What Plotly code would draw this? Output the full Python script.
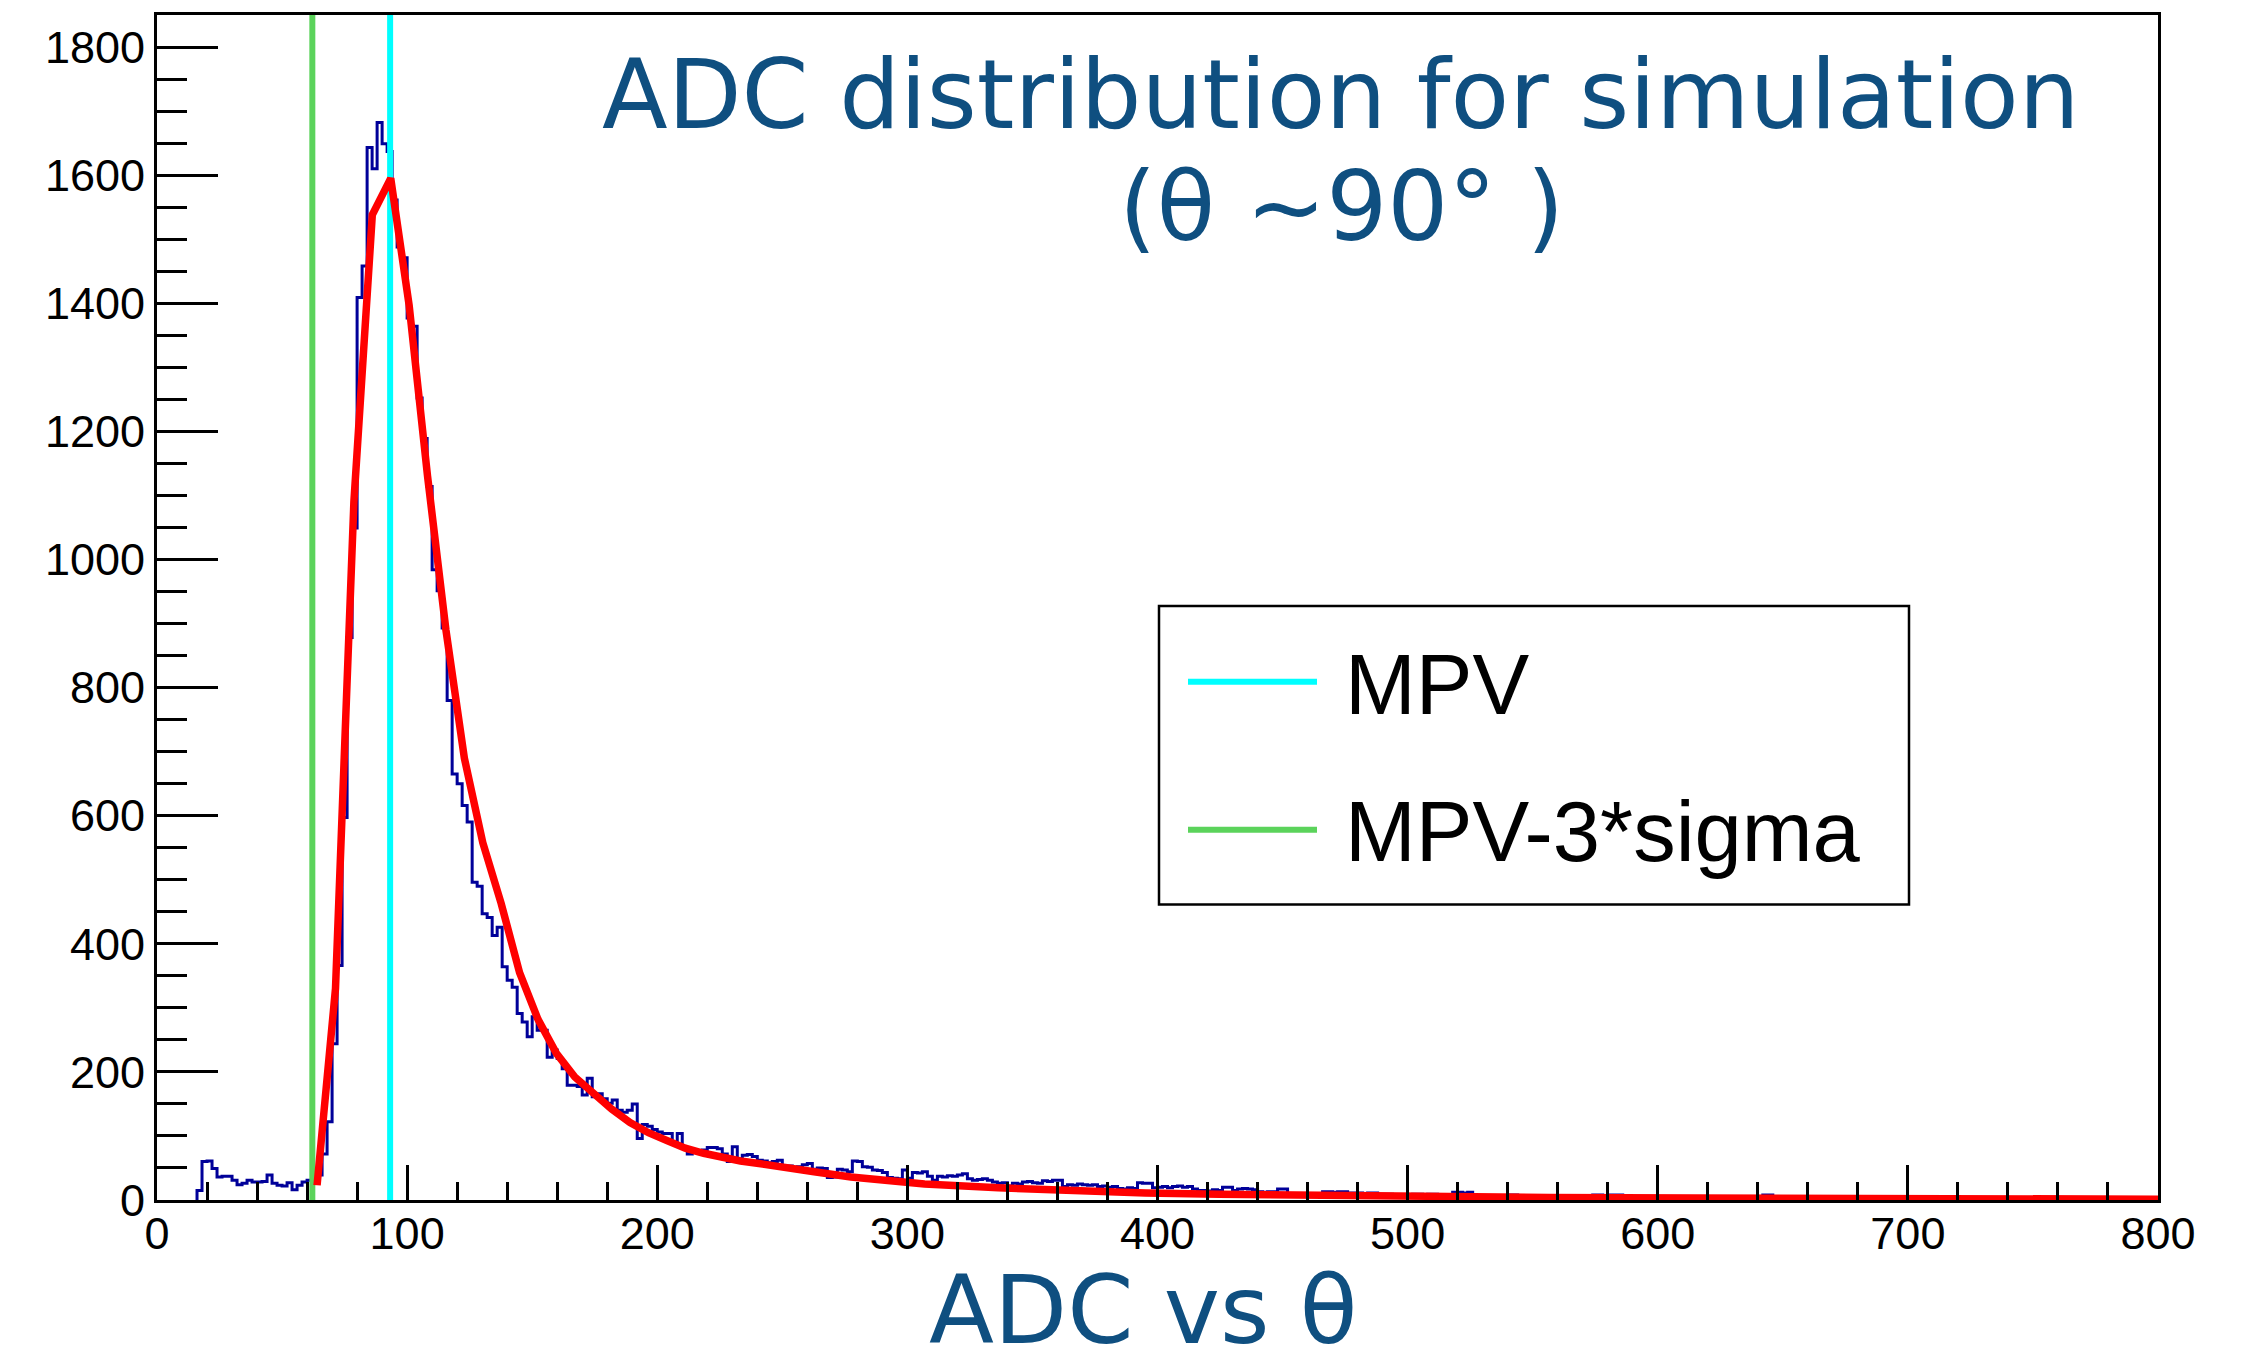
import plotly.graph_objects as go

# ---------------- data ----------------
hist_start = 16          # low edge of first filled bin (ADC)
bin_width = 2            # ADC per bin
counts = [
    15, 60, 61, 49, 36, 37, 37, 31, 24, 26, 31, 28, 28, 29, 39, 26, 23, 22, 27, 16, 23, 28, 31, 30,
    39, 72, 122, 244, 366, 597, 878, 1049, 1409, 1458, 1643, 1610, 1682, 1649, 1637, 1561, 1488, 1471, 1377, 1364, 1252, 1189, 1114, 984,
    951, 893, 780, 665, 650, 616, 590, 496, 490, 447, 441, 413, 426, 364, 343, 332, 291, 278, 255, 286, 265, 265, 223, 234,
    221, 205, 179, 179, 177, 164, 190, 161, 166, 158, 151, 156, 140, 137, 140, 150, 96, 118, 115, 110, 106, 104, 104, 90,
    104, 82, 72, 75, 76, 78, 82, 82, 80, 72, 60, 83, 64, 70, 71, 68, 62, 61, 58, 60, 62, 52, 53, 51,
    52, 55, 57, 48, 50, 49, 35, 36, 48, 47, 44, 61, 60, 52, 51, 47, 46, 43, 35, 34, 33, 47, 34, 43,
    42, 44, 37, 31, 37, 36, 38, 37, 39, 41, 33, 31, 32, 33, 31, 28, 26, 27, 22, 26, 25, 28, 29, 27,
    26, 30, 29, 31, 31, 21, 24, 23, 25, 24, 23, 24, 21, 22, 20, 21, 18, 17, 19, 18, 27, 26, 26, 19,
    20, 21, 19, 21, 22, 20, 21, 17, 15, 15, 14, 16, 15, 20, 20, 15, 17, 18, 17, 16, 13, 12, 13, 13,
    17, 17, 9, 9, 10, 9, 8, 9, 9, 13, 13, 12, 13, 13, 11, 11, 11, 10, 11, 11, 9, 9, 9, 5,
    5, 6, 5, 9, 9, 8, 9, 9, 8, 8, 8, 12, 12, 11, 12, 4, 4, 5, 4, 4, 4, 4, 8, 8,
    7, 4, 4, 3, 5, 4, 4, 3, 4, 5, 4, 3, 4, 4, 4, 8, 8, 7, 8, 8, 8, 3, 3, 2,
    3, 3, 4, 3, 2, 3, 3, 3, 4, 3, 2, 3, 3, 3, 3, 2, 3, 5, 5, 3, 3, 2, 3, 3,
    3, 8, 8, 2, 2, 1, 2, 1, 1, 2, 1, 1, 2, 1, 1, 1, 2, 1, 1, 1, 1, 0, 1, 1,
    1, 0, 1, 1, 0, 1, 0, 0, 1, 0, 1, 0, 0, 1, 0, 0, 0, 1, 0, 0, 0, 0, 1, 0,
    0, 0, 1, 0, 0, 0, 0, 0, 0, 1, 0, 0, 0, 0, 0, 0, 0, 0, 0, 0, 0, 0, 0, 0, 0, 0, 0, 0, 0, 0, 0, 0,
]

fit_adc = [64.0, 71.36, 78.72, 86.08, 93.44, 100.8, 108.16, 115.52, 122.88, 130.24,
           137.6, 144.96, 152.32, 159.68, 167.04, 174.4, 181.76, 189.12, 196.48, 203.84,
           211.2, 218.56, 225.92, 233.28, 240.64, 248.0, 262.72, 277.44, 292.16, 306.88,
           336.32, 365.76, 395.2, 424.64, 454.08, 498.24, 556.64, 615.04, 673.44, 732.0, 800.0]
fit_counts = [23, 330, 1090, 1538, 1595, 1397, 1130, 890, 690, 558,
              463, 355, 282, 229, 192, 165, 142, 121, 105, 93,
              81, 73, 66, 61, 57, 52, 44, 36, 30, 25,
              19, 14.5, 11, 9, 7.5, 5.6, 4, 3, 2.3, 1.7, 1.3]

mpv = 93.2
mpv_minus_3sigma = 62.1

x_range = [0, 800]
y_range = [0, 1850]
title_lines = ["ADC distribution for simulation", "(θ ~90° )"]
x_title = "ADC vs θ"
legend_labels = ["MPV", "MPV-3*sigma"]

# ---------------- figure ----------------
edges = [hist_start + i * bin_width for i in range(len(counts) + 1)]
hist_x = [edges[0]] + edges
hist_y = [0] + counts + [counts[-1]]

HIST_COL = "#000099"
FIT_COL = "#ff0000"
MPV_COL = "#00ffff"
SIG_COL = "#5bd35b"
TXT_COL = "#0f4f80"

fig = go.Figure()
fig.add_trace(go.Scatter(x=hist_x, y=hist_y, mode="lines", line=dict(color=HIST_COL, width=3, shape="hv"),
                         showlegend=False, hoverinfo="skip"))
fig.add_trace(go.Scatter(x=[mpv_minus_3sigma, mpv_minus_3sigma], y=y_range, mode="lines",
                         line=dict(color=SIG_COL, width=6), showlegend=False))
fig.add_trace(go.Scatter(x=[mpv, mpv], y=y_range, mode="lines",
                         line=dict(color=MPV_COL, width=6), showlegend=False))
fig.add_trace(go.Scatter(x=fit_adc, y=fit_counts, mode="lines",
                         line=dict(color=FIT_COL, width=7.5), showlegend=False))

L, R, T, B = 157, 2158, 13, 1200
W, H = 2249, 1355
pw, ph = R - L, B - T


def px(xp):
    return (xp - L) / pw


def py(yp):
    return (B - yp) / ph


axis_common = dict(showline=True, linecolor="black", linewidth=3, mirror=True,
                   ticks="inside", tickcolor="black", tickwidth=2.5,
                   showgrid=False, zeroline=False,
                   tickfont=dict(family="Liberation Sans", size=45, color="black"))

fig.update_layout(
    width=W, height=H,
    margin=dict(l=L, r=W - R, t=T, b=H - B),
    paper_bgcolor="white", plot_bgcolor="white",
    xaxis=dict(range=x_range, tick0=0, dtick=100, ticklen=35, ticklabelstandoff=-8,
               minor=dict(ticks="inside", ticklen=18, tickwidth=2.5, tickcolor="black", dtick=20, showgrid=False),
               **axis_common),
    yaxis=dict(range=y_range, tick0=0, dtick=200, ticklen=61,
               minor=dict(ticks="inside", ticklen=30, tickwidth=2.5, tickcolor="black", dtick=50, showgrid=False),
               **axis_common),
)

annots = [
    dict(text=title_lines[0], x=px(1341), y=py(93), xanchor="center", yanchor="middle",
         font=dict(family="DejaVu Sans", size=96, color=TXT_COL)),
    dict(text=title_lines[1], x=px(1341), y=py(205), xanchor="center", yanchor="middle",
         font=dict(family="DejaVu Sans", size=96, color=TXT_COL)),
    dict(text=x_title, x=px(1143), y=py(1310), xanchor="center", yanchor="middle",
         font=dict(family="DejaVu Sans", size=95, color=TXT_COL)),
    dict(text=legend_labels[0], x=px(1343), y=py(684), xanchor="left", yanchor="middle",
         font=dict(family="Liberation Sans", size=85, color="black")),
    dict(text=legend_labels[1], x=px(1343), y=py(831), xanchor="left", yanchor="middle",
         font=dict(family="Liberation Sans", size=85, color="black")),
]
for a in annots:
    a.update(xref="paper", yref="paper", showarrow=False)
fig.update_layout(annotations=annots)

shapes = [
    dict(type="rect", x0=px(1159), x1=px(1909), y0=py(904), y1=py(605),
         line=dict(color="black", width=2.5), fillcolor="white", layer="above"),
    dict(type="line", x0=px(1188), x1=px(1317), y0=py(681), y1=py(681),
         line=dict(color=MPV_COL, width=6), layer="above"),
    dict(type="line", x0=px(1188), x1=px(1317), y0=py(829), y1=py(829),
         line=dict(color=SIG_COL, width=6), layer="above"),
]
for s in shapes:
    s.update(xref="paper", yref="paper")
fig.update_layout(shapes=shapes)

fig.write_html("out.html")
